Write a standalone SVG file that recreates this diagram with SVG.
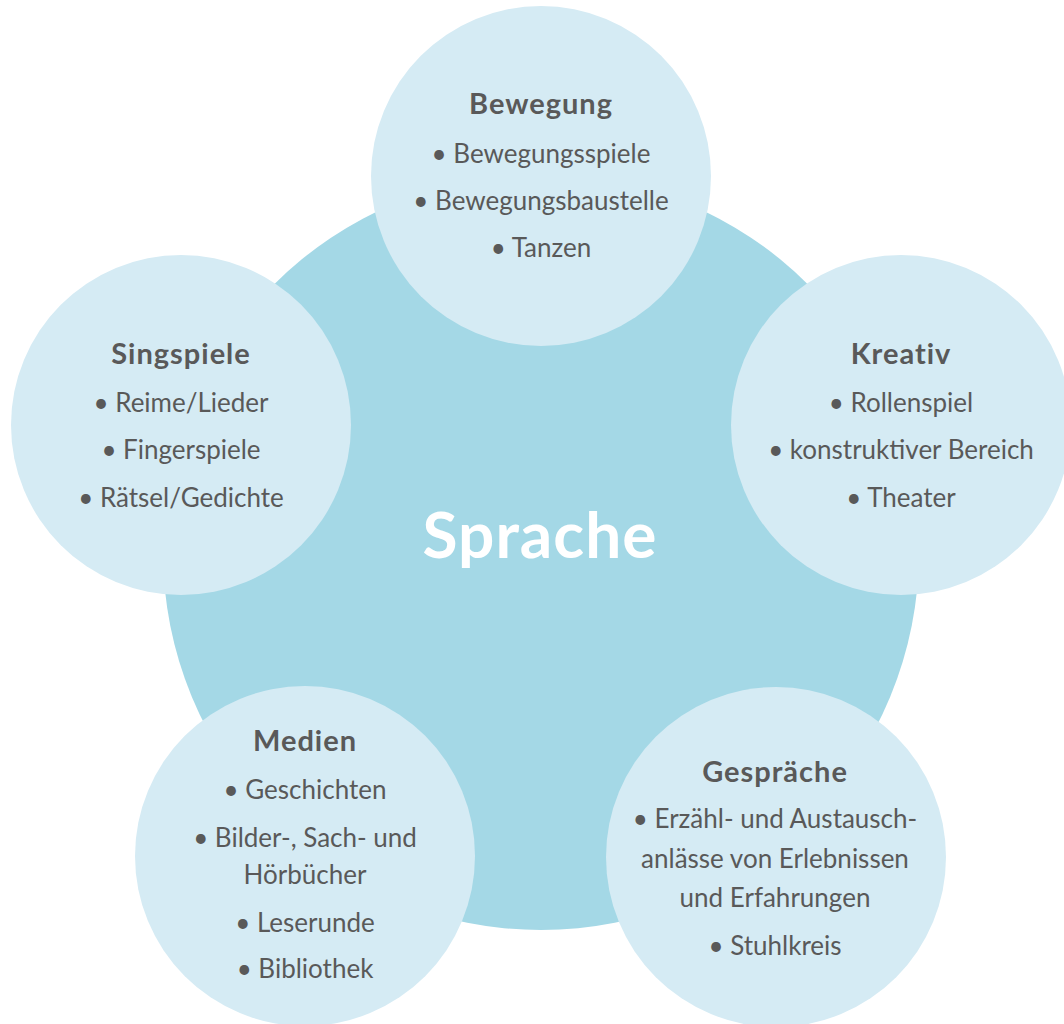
<svg xmlns="http://www.w3.org/2000/svg" width="1064" height="1024" viewBox="0 0 1064 1024">
<style>
.bg{fill:#A4D8E6}
.c{fill:#D5EBF4}
.t{font-family:Lato,"Open Sans","Liberation Sans",sans-serif;fill:#595959;text-anchor:middle}
.h{font-size:29px;font-weight:bold;letter-spacing:1px}
.i{font-size:26px}
.s{font-family:Lato,"Open Sans","Liberation Sans",sans-serif;fill:#FFFFFF;font-size:64px;font-weight:bold;text-anchor:middle;letter-spacing:1px}
</style>
<rect width="1064" height="1024" fill="#FFFFFF"/>
<g id="sprache">
<circle class="bg" cx="541" cy="552" r="378"/>
<text class="s" x="540" y="558">Sprache</text>
</g>
<g id="connectors"></g>
<g id="bewegung">
<circle class="c" cx="541" cy="176" r="170"/>
<text class="t h" x="541" y="114">Bewegung</text>
<text class="t i" x="541" y="163">• Bewegungsspiele</text>
<text class="t i" x="541" y="210">• Bewegungsbaustelle</text>
<text class="t i" x="541" y="257">• Tanzen</text>
</g>
<g id="singspiele">
<circle class="c" cx="181" cy="425" r="170"/>
<text class="t h" x="181" y="364">Singspiele</text>
<text class="t i" x="181" y="412">• Reime/Lieder</text>
<text class="t i" x="181" y="459">• Fingerspiele</text>
<text class="t i" x="181" y="507">• Rätsel/Gedichte</text>
</g>
<g id="kreativ">
<circle class="c" cx="901" cy="425" r="170"/>
<text class="t h" x="901" y="364">Kreativ</text>
<text class="t i" x="901" y="412">• Rollenspiel</text>
<text class="t i" x="901" y="459">• konstruktiver Bereich</text>
<text class="t i" x="901" y="507">• Theater</text>
</g>
<g id="medien">
<circle class="c" cx="305" cy="856" r="170"/>
<text class="t h" x="305" y="751">Medien</text>
<text class="t i" x="305" y="799">• Geschichten</text>
<text class="t i" x="305" y="847">• Bilder-, Sach- und</text>
<text class="t i" x="305" y="884">Hörbücher</text>
<text class="t i" x="305" y="932">• Leserunde</text>
<text class="t i" x="305" y="978">• Bibliothek</text>
</g>
<g id="gespraeche">
<circle class="c" cx="776" cy="857" r="170"/>
<text class="t h" x="775" y="782">Gespräche</text>
<text class="t i" x="775" y="828">• Erzähl- und Austausch-</text>
<text class="t i" x="775" y="868">anlässe von Erlebnissen</text>
<text class="t i" x="775" y="907">und Erfahrungen</text>
<text class="t i" x="775" y="955">• Stuhlkreis</text>
</g>
</svg>
